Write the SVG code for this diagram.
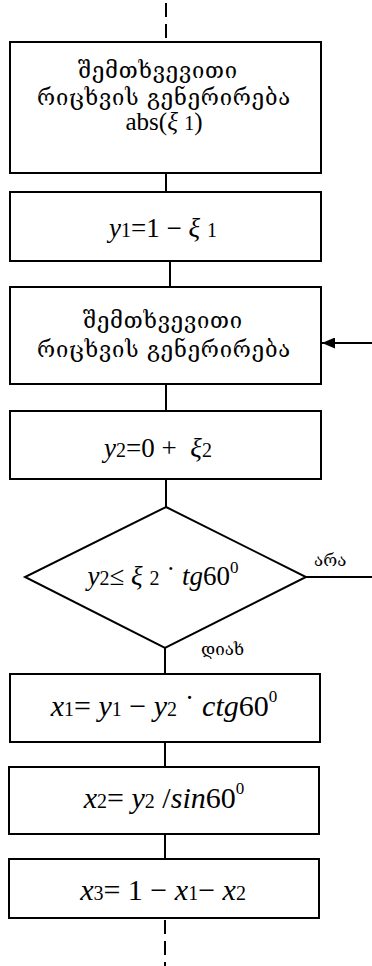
<svg xmlns="http://www.w3.org/2000/svg" width="372" height="966" viewBox="0 0 372 966">
<defs>
<style>
.box{fill:#fff;stroke:#000;stroke-width:2}
.ln{fill:none;stroke:#000;stroke-width:2}
.dash{fill:none;stroke:#000;stroke-width:2;stroke-dasharray:14,7}
.geo{font-size:22px;fill:#000;text-anchor:middle;letter-spacing:0.8px}
.lbl{font-size:17px;fill:#000}
.m{font-size:27px;fill:#000;text-anchor:middle}
.i{font-style:italic}
.s{font-size:20px}
.sup{font-size:17px}
</style>
<marker id="ah" markerWidth="13" markerHeight="11" refX="13" refY="5.5" orient="auto" markerUnits="userSpaceOnUse">
<path d="M0,0 L13,5.5 L0,11 Z" fill="#000"/>
</marker>
</defs>
<g id="connectors">
<line class="dash" x1="166" y1="3" x2="166" y2="42"/>
<line class="ln" x1="166" y1="173" x2="166" y2="192"/>
<line class="ln" x1="170" y1="261" x2="170" y2="287"/>
<line class="ln" x1="166" y1="384" x2="166" y2="411"/>
<line class="ln" x1="166" y1="479" x2="166" y2="507"/>
<line class="ln" x1="165" y1="648" x2="165" y2="674"/>
<line class="ln" x1="165" y1="742" x2="165" y2="767"/>
<line class="ln" x1="165" y1="834" x2="165" y2="859"/>
<line class="dash" x1="165" y1="920" x2="165" y2="966"/>
<line class="ln" x1="306" y1="577" x2="372" y2="577"/>
<line class="ln" x1="372" y1="343" x2="322" y2="343" marker-end="url(#ah)"/>
<text class="lbl" font-family="'DejaVu Serif','DejaVu Sans',serif" x="314" y="566">არა</text>
<text class="lbl" font-family="'DejaVu Serif','DejaVu Sans',serif" x="201" y="655">დიახ</text>
</g>
<g id="n1">
<rect class="box" x="10" y="42" width="311" height="131"/>
<text class="geo" font-family="'DejaVu Serif','DejaVu Sans',serif" x="158" y="78">შემთხვევითი</text>
<text class="geo" font-family="'DejaVu Serif','DejaVu Sans',serif" x="164" y="105">რიცხვის გენერირება</text>
<text class="m" font-family="'Liberation Serif','Times New Roman',serif" x="164" y="130" style="font-size:25px">abs(<tspan class="i">ξ</tspan> <tspan class="s">1</tspan>)</text>
</g>
<g id="n2">
<rect class="box" x="10" y="192" width="311" height="69"/>
<text class="m" font-family="'Liberation Serif','Times New Roman',serif" x="163" y="237"><tspan class="i">y</tspan><tspan class="s">1</tspan>=1 − <tspan class="i">ξ</tspan> <tspan class="s">1</tspan></text>
</g>
<g id="n3">
<rect class="box" x="10" y="287" width="311" height="97"/>
<text class="geo" font-family="'DejaVu Serif','DejaVu Sans',serif" x="163" y="328">შემთხვევითი</text>
<text class="geo" font-family="'DejaVu Serif','DejaVu Sans',serif" x="164" y="357">რიცხვის გენერირება</text>
</g>
<g id="n4">
<rect class="box" x="10" y="411" width="311" height="68"/>
<text class="m" xml:space="preserve" font-family="'Liberation Serif','Times New Roman',serif" x="158" y="457"><tspan class="i">y</tspan><tspan class="s">2</tspan>=0 +  <tspan class="i">ξ</tspan><tspan class="s">2</tspan></text>
</g>
<g id="n5">
<polygon class="box" points="166,507 306,577 165,648 25,577"/>
<text class="m" font-family="'Liberation Serif','Times New Roman',serif" x="163" y="585"><tspan class="i">y</tspan><tspan class="s">2</tspan>≤ <tspan class="i">ξ</tspan> <tspan class="s">2</tspan> ˙ <tspan class="i">tg</tspan>60<tspan class="sup" dy="-12">0</tspan></text>
</g>
<g id="n6">
<rect class="box" x="10" y="674" width="310" height="68"/>
<text class="m" font-family="'Liberation Serif','Times New Roman',serif" x="164" y="716" style="font-size:30px"><tspan class="i">x</tspan><tspan class="s">1</tspan>= <tspan class="i">y</tspan><tspan class="s">1</tspan> − <tspan class="i">y</tspan><tspan class="s">2</tspan> ˙ <tspan class="i">ctg</tspan>60<tspan class="sup" dy="-14">0</tspan></text>
</g>
<g id="n7">
<rect class="box" x="9" y="767" width="310" height="67"/>
<text class="m" font-family="'Liberation Serif','Times New Roman',serif" x="164" y="808" style="font-size:30px"><tspan class="i">x</tspan><tspan class="s">2</tspan>= <tspan class="i">y</tspan><tspan class="s">2</tspan> /<tspan class="i">sin</tspan>60<tspan class="sup" dy="-14">0</tspan></text>
</g>
<g id="n8">
<rect class="box" x="9" y="859" width="310" height="59"/>
<text class="m" font-family="'Liberation Serif','Times New Roman',serif" x="163" y="900" style="font-size:30px"><tspan class="i">x</tspan><tspan class="s">3</tspan>= 1 − <tspan class="i">x</tspan><tspan class="s">1</tspan>− <tspan class="i">x</tspan><tspan class="s">2</tspan></text>
</g>
</svg>
